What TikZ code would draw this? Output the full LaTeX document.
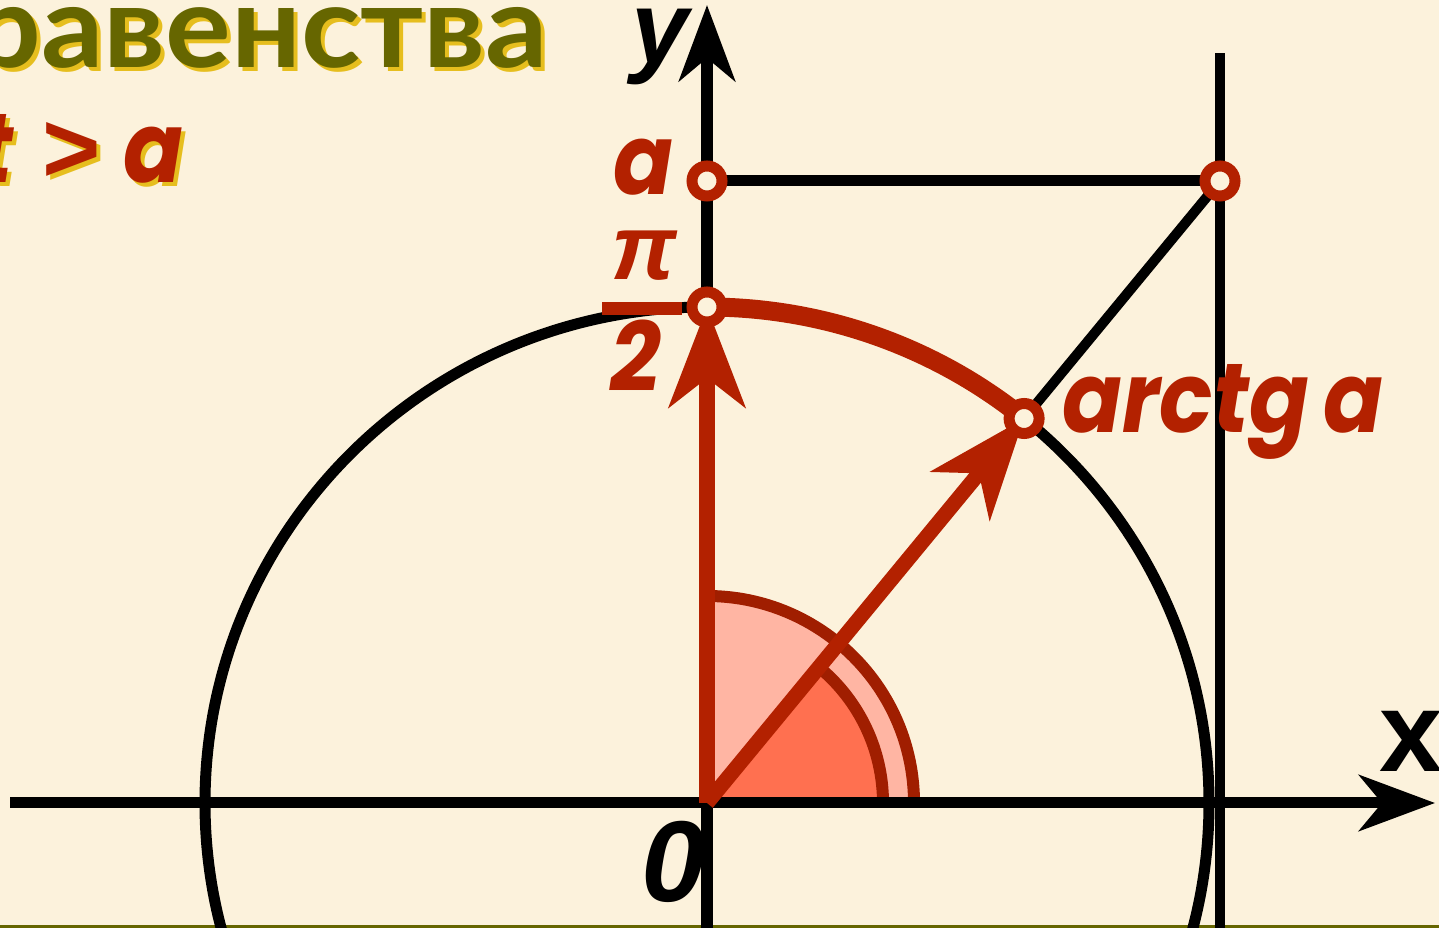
\documentclass[tikz,border=0pt]{standalone}
\usepackage{fontspec}
\usetikzlibrary{arrows.meta}
\newfontfamily\popf{Poppins}[FakeStretch=0.9]
\newfontfamily\libf{Liberation Sans}
\newfontfamily\latof{Lato}[FakeStretch=1.07]
\definecolor{bgc}{HTML}{FCF2DC}
\definecolor{redc}{HTML}{B32100}
\definecolor{darkredc}{HTML}{A01E00}
\definecolor{pinkc}{HTML}{FFB5A3}
\definecolor{salmonc}{HTML}{FF7050}
\definecolor{olivec}{HTML}{666600}
\definecolor{goldc}{HTML}{E6BE1E}
\tikzset{
  ring/.style={circle, draw=redc, line width=11pt, fill=bgc, minimum size=30pt, inner sep=0pt},
  blk/.style={draw=black, line width=11pt},
  redtip/.tip={Stealth[length=100pt,width=76pt,inset=29pt]},
  blktip/.tip={Stealth[length=76pt,width=56pt,inset=23pt]},
  redlbl/.style={text=redc, inner sep=0pt, font=\popf\bfseries\itshape\fontsize{98}{110}\selectfont},
  gtlbl/.style={text=redc, inner sep=0pt, font=\libf\bfseries\fontsize{100}{110}\selectfont},
  blklbl/.style={text=black, inner sep=0pt},
  ttl/.style={text=olivec, inner sep=0pt, font=\latof\bfseries\fontsize{115}{120}\selectfont},
}
\begin{document}
\begin{tikzpicture}[x=1pt,y=1pt]
\useasboundingbox (0,0) rectangle (1439,928);
\fill[bgc] (0,0) rectangle (1439,928);
\draw[olivec, line width=3pt] (0,1.5) -- (1439,1.5);
% coordinates
\coordinate (O) at (707,125);
\coordinate (P) at (707,621);
\coordinate (A) at (707,747);
\coordinate (T) at (1220,747);
\coordinate (Q) at (1024.1,509.5);
\coordinate (Xs) at (10,125);
\coordinate (Xe) at (1435,125);
\coordinate (Ys) at (707,-10);
\coordinate (Ye) at (707,923);
\coordinate (Ts) at (1220,-10);
\coordinate (Te) at (1220,875);
% sectors
\fill[pinkc] (O) -- ++(207,0) arc[start angle=0,end angle=90,radius=207] -- cycle;
\draw[darkredc, line width=12pt] (O) ++(207,0) arc[start angle=0,end angle=90,radius=207];
\fill[salmonc] (O) -- ++(176,0) arc[start angle=0,end angle=50.5,radius=176] -- cycle;
\draw[darkredc, line width=12pt] (O) ++(176,0) arc[start angle=0,end angle=50.5,radius=176];
% black lines
\draw[blk] (O) ellipse[x radius=502, y radius=496];
\draw[blk, -blktip] (Xs) -- (Xe);
\draw[blk, line width=12pt, -blktip] (Ys) -- (Ye);
\draw[blk, line width=10pt] (Ts) -- (Te);
\draw[blk] (A) -- (T);
\draw[blk, line width=10pt] (O) -- (T);
% red
\draw[redc, line width=19pt] (P) arc[start angle=90,end angle=50.82,x radius=502,y radius=496];
\draw[redc, line width=16pt, -redtip] (O) -- (P);
\draw[redc, line width=15pt, -redtip] (O) -- (Q);
\draw[redc, line width=13pt] (602,619.5) -- (682,619.5);
\node[ring] (rA) at (A) {};
\node[ring] (rT) at (T) {};
\node[ring] (rP) at (P) {};
\node[ring] (rQ) at (Q) {};
% labels
\node[blklbl, anchor=base, font=\libf\bfseries\itshape\fontsize{103}{110}\selectfont] (ly) at (660,864) {y};
\node[blklbl, anchor=base, font=\libf\bfseries\fontsize{114}{120}\selectfont] (lx) at (1411,156) {x};
\node[blklbl, anchor=base, font=\libf\bfseries\itshape\fontsize{115}{120}\selectfont] (l0) at (673,26) {0};
\node[redlbl, anchor=base] (la) at (643,733) {a};
\node[redlbl, anchor=base, font=\libf\bfseries\itshape\fontsize{92}{100}\selectfont] (lpi) at (644,648) {π};
\node[redlbl, anchor=base] (l2) at (636,536) {2};
\node[redlbl, anchor=base west] (larc) at (1062,495) {arctg\hspace{15pt}a};
% title fragments
\node[ttl, text=goldc, anchor=base east] (tsh) at (552,856) {равенства};
\node[ttl, anchor=base east] (tt) at (548,860) {равенства};
\node[redlbl, text=goldc, anchor=base east] (tsh1) at (18,741) {t};
\node[gtlbl, text=goldc, anchor=base] (gsh) at (76,741) {>};
\node[redlbl, text=goldc, anchor=base east] (ash) at (188,741) {a};
\node[redlbl, anchor=base east] (tv) at (14,745) {t};
\node[gtlbl, anchor=base] (gt) at (72,745) {>};
\node[redlbl, anchor=base east] (av) at (184,745) {a};
\end{tikzpicture}
\end{document}
